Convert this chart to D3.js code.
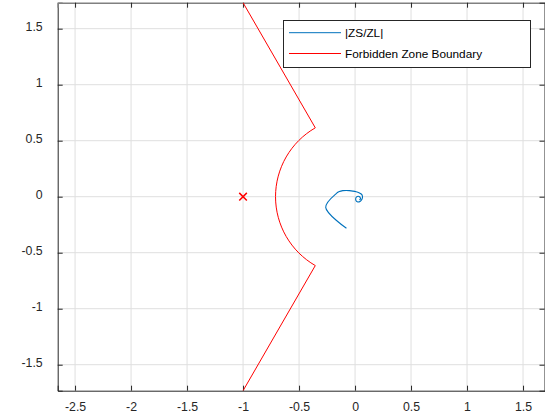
<!DOCTYPE html>
<html>
<head>
<meta charset="utf-8">
<script src="https://cdn.jsdelivr.net/npm/d3@7"></script>
<style>
  html, body { margin: 0; padding: 0; background: #fff; }
  svg { display: block; }
  text { font-family: "Liberation Sans", Arial, Helvetica, sans-serif; }
</style>
</head>
<body>
<svg id="chart" width="545" height="415"></svg>
<script>
// ---- data ----
const xTicks = [-2.5, -2, -1.5, -1, -0.5, 0, 0.5, 1, 1.5];
const yTicks = [-1.5, -1, -0.5, 0, 0.5, 1, 1.5];
const xTickLabels = ["-2.5", "-2", "-1.5", "-1", "-0.5", "0", "0.5", "1", "1.5"];
const yTickLabels = ["-1.5", "-1", "-0.5", "0", "0.5", "1", "1.5"];

// |ZS/ZL| trace (real, imag)
const zsX = [-0.077, -0.262, -0.166, -0.140, -0.110, -0.080, -0.050, -0.020, 0.010, 0.035, 0.055, 0.066, 0.064, 0.053, 0.036, 0.020, 0.008, 0.006, 0.014, 0.027, 0.040, 0.048, 0.046, 0.038];
const zsY = [-0.282, -0.095, 0.030, 0.046, 0.054, 0.056, 0.054, 0.050, 0.044, 0.036, 0.024, 0.006, -0.016, -0.034, -0.046, -0.046, -0.034, -0.016, -0.002, 0.004, 0.000, -0.012, -0.024, -0.028];

// Forbidden zone boundary: outer end points, corner radius and arc angles
const boundaryEndX = [-1, -1];
const boundaryEndY = [1.732, -1.732];
const boundaryRadius = 0.71;
const boundaryArcDeg = [120, 240];

// critical point
const critX = [-1];
const critY = [0];

const legendLabels = ["|ZS/ZL|", "Forbidden Zone Boundary"];
const legendColors = ["#0072BD", "#FF0000"];

// ---- layout ----
const svg = d3.select("#chart");
const L = 57.7, R = 546, T = 2.7, B = 390.7;
const x = d3.scaleLinear().domain([-2.655, 1.705]).range([L, R]);
const y = d3.scaleLinear().domain([-1.732, 1.732]).range([B, T]);
const ink = "#262626";

svg.append("defs").append("clipPath").attr("id", "clip")
  .append("rect").attr("x", L).attr("y", T).attr("width", R - L).attr("height", B - T);

// grid
const grid = svg.append("g").attr("stroke", "#dfdfdf").attr("stroke-width", 1);
xTicks.forEach(t => grid.append("line").attr("x1", x(t)).attr("x2", x(t)).attr("y1", T).attr("y2", B));
yTicks.forEach(t => grid.append("line").attr("y1", y(t)).attr("y2", y(t)).attr("x1", L).attr("x2", R));

// axes via d3 axis (inward ticks)
const ax = svg.append("g").attr("transform", `translate(0,${B})`)
  .call(d3.axisBottom(x).tickValues(xTicks).tickSize(-5).tickPadding(14).tickFormat((d, i) => xTickLabels[i]));
const ay = svg.append("g").attr("transform", `translate(${L},0)`)
  .call(d3.axisLeft(y).tickValues(yTicks).tickSize(-5).tickPadding(15).tickFormat((d, i) => yTickLabels[i]));
const axT = svg.append("g").attr("transform", `translate(0,${T})`)
  .call(d3.axisTop(x).tickValues(xTicks).tickSize(-5).tickFormat(""));
const ayR = svg.append("g").attr("transform", `translate(${R - 1.5},0)`)
  .call(d3.axisRight(y).tickValues(yTicks).tickSize(-5).tickFormat(""));

[ax, ay, axT, ayR].forEach(g => {
  g.selectAll(".domain").attr("stroke", ink).attr("stroke-width", 1);
  g.selectAll(".tick line").attr("stroke", ink);
  g.selectAll("text").attr("fill", ink).attr("font-size", 12.3)
    .attr("font-family", "'Liberation Sans', Arial, Helvetica, sans-serif");
});
axT.select(".domain").attr("stroke", "#808080").attr("stroke-width", 1.5);
ay.selectAll("text").attr("dy", "0.15em");
ax.selectAll("text").attr("dy", "0.5em");

// plot content
const plot = svg.append("g").attr("clip-path", "url(#clip)");

// boundary
const r = boundaryRadius;
const a0 = boundaryArcDeg[0] * Math.PI / 180, a1 = boundaryArcDeg[1] * Math.PI / 180;
const rpx = x(r) - x(0);
const p = d3.path();
p.moveTo(x(boundaryEndX[0]), y(boundaryEndY[0]));
p.lineTo(x(r * Math.cos(a0)), y(r * Math.sin(a0)));
p.arc(x(0), y(0), rpx, -a0, -a1, true);
p.lineTo(x(boundaryEndX[1]), y(boundaryEndY[1]));
plot.append("path").attr("d", p.toString()).attr("fill", "none")
  .attr("stroke", legendColors[1]).attr("stroke-width", 1);

// trace
const pts = zsX.map((v, i) => [v, zsY[i]]);
plot.append("path").datum(pts)
  .attr("d", d3.line().x(d => x(d[0])).y(d => y(d[1])).curve(d3.curveCatmullRom.alpha(0.5)))
  .attr("fill", "none").attr("stroke", legendColors[0]).attr("stroke-width", 1.1);

// critical point marker
critX.forEach((cx, i) => {
  const px = x(cx), py = y(critY[i]), s = 3.8;
  plot.append("path")
    .attr("d", `M${px - s},${py - s}L${px + s},${py + s}M${px - s},${py + s}L${px + s},${py - s}`)
    .attr("stroke", "#FF0000").attr("stroke-width", 1.5).attr("fill", "none");
});

// legend
const lg = svg.append("g");
lg.append("rect").attr("x", 283.5).attr("y", 20.5).attr("width", 247).attr("height", 47)
  .attr("fill", "#fff").attr("stroke", ink).attr("stroke-width", 1);
const rowY = [32.7, 53.5];
legendLabels.forEach((lab, i) => {
  lg.append("line").attr("x1", 289).attr("x2", 341).attr("y1", rowY[i]).attr("y2", rowY[i])
    .attr("stroke", legendColors[i]).attr("stroke-width", 1);
  lg.append("text").attr("x", 345).attr("y", rowY[i]).attr("dy", "0.35em")
    .attr("font-size", 11.8).attr("fill", "#000").text(lab);
});
</script>
</body>
</html>
